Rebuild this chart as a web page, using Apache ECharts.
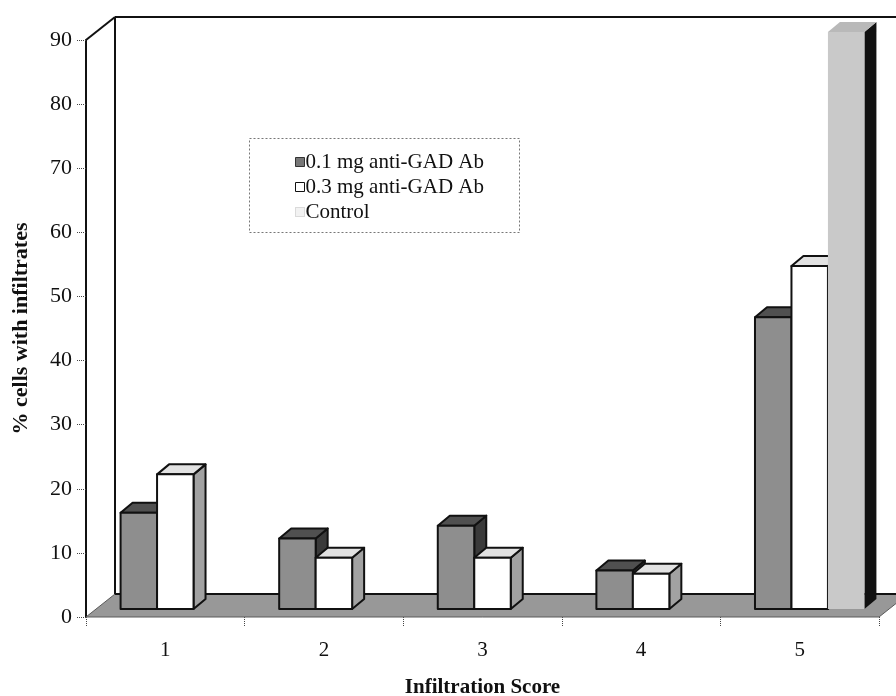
<!DOCTYPE html>
<html>
<head>
<meta charset="utf-8">
<script src="https://cdn.jsdelivr.net/npm/echarts@6/dist/echarts.min.js"></script>
<style>
  html, body { margin: 0; padding: 0; background: #fff; }
  #chart { width: 896px; height: 696px; }
</style>
</head>
<body>
<div id="chart"></div>
<script>
// Infiltration score categories and percentages per treatment group
const categories = ['1', '2', '3', '4', '5'];
const seriesNames = ['0.1 mg anti-GAD Ab', '0.3 mg anti-GAD Ab', 'Control'];
const dose01 = [15, 11, 13, 6, 45.5];
const dose03 = [21, 8, 8, 5.5, 53.5];
const control = [0, 0, 0, 0, 90];
const yMin = 0, yMax = 90, yStep = 10;

// 3D look: wall/floor depth, bar offset into the floor, bar depth
const WALL_DX = 29, WALL_DY = -23;
const FRONT_DX = 10, FRONT_DY = -8;
const BAR_DX = 12, BAR_DY = -10;
const BAR_FRAC = 0.23;
const SERIF = '"Liberation Serif", "DejaVu Serif", serif';

const faces = [
  { front: '#8e8e8e', top: '#505050', side: '#3a3a3a', stroke: '#111', icon: '#777', iconBorder: '#333' },
  { front: '#ffffff', top: '#e2e2e2', side: '#a2a2a2', stroke: '#111', icon: '#fff', iconBorder: '#111' },
  { front: '#c9c9c9', top: '#b9b9b9', side: '#111111', stroke: null, icon: '#f2f2f2', iconBorder: '#bbb' }
];

function toPairs(arr) { return arr.map((v, i) => [i, v]); }

function barRenderer(sIdx) {
  const f = faces[sIdx];
  return function (params, api) {
    const v = api.value(1);
    if (!(v > 0)) return null;
    const i = api.value(0);
    const top = api.coord([i, v]);
    const base = api.coord([i, 0]);
    const band = api.size([1, 0])[0];
    const w = band * BAR_FRAC;
    const x0 = top[0] - 1.5 * w + sIdx * w + FRONT_DX;
    const yt = top[1] + FRONT_DY;
    const yb = base[1] + FRONT_DY;
    const st = f.stroke ? { stroke: f.stroke, lineWidth: 2, lineJoin: 'round' } : { stroke: null };
    return {
      type: 'group',
      children: [
        { type: 'polygon', shape: { points: [[x0 + w, yt], [x0 + w + BAR_DX, yt + BAR_DY], [x0 + w + BAR_DX, yb + BAR_DY], [x0 + w, yb]] },
          style: Object.assign({ fill: f.side }, st) },
        { type: 'polygon', shape: { points: [[x0, yt], [x0 + w, yt], [x0 + w + BAR_DX, yt + BAR_DY], [x0 + BAR_DX, yt + BAR_DY]] },
          style: Object.assign({ fill: f.top }, st) },
        { type: 'rect', shape: { x: x0, y: yt, width: w, height: yb - yt },
          style: Object.assign({ fill: f.front }, st) }
      ]
    };
  };
}

// Back wall, side wall edge and floor of the plot box
function frameRenderer(params, api) {
  const cs = params.coordSys;
  const L = cs.x, R = cs.x + cs.width, T = cs.y, B = cs.y + cs.height;
  const ink = { stroke: '#111', lineWidth: 2 };
  return {
    type: 'group',
    children: [
      { type: 'polygon', shape: { points: [[L, B], [L + WALL_DX, B + WALL_DY], [R + WALL_DX, B + WALL_DY], [R, B]] },
        style: { fill: '#989898', stroke: '#5a5a5a', lineWidth: 1 } },
      { type: 'line', shape: { x1: L + WALL_DX, y1: B + WALL_DY, x2: R + WALL_DX, y2: B + WALL_DY }, style: ink },
      { type: 'line', shape: { x1: L, y1: T, x2: L + WALL_DX, y2: T + WALL_DY }, style: ink },
      { type: 'line', shape: { x1: L + WALL_DX, y1: T + WALL_DY, x2: R + WALL_DX + 40, y2: T + WALL_DY }, style: ink },
      { type: 'line', shape: { x1: L + WALL_DX, y1: T + WALL_DY, x2: L + WALL_DX, y2: B + WALL_DY }, style: ink }
    ]
  };
}

const chart = echarts.init(document.getElementById('chart'), null, { renderer: 'canvas' });

const valueSets = [dose01, dose03, control];

chart.setOption({
  animation: false,
  backgroundColor: '#ffffff',
  grid: { left: 86, right: 17, top: 40, bottom: 79, containLabel: false, outerBoundsMode: 'none' },
  xAxis: {
    type: 'category',
    data: categories,
    boundaryGap: true,
    axisLine: { show: false },
    axisTick: { show: true, length: 9, lineStyle: { color: '#444', type: 'dotted', width: 1 } },
    axisLabel: { margin: 23, fontFamily: SERIF, fontSize: 21, color: '#111' },
    name: 'Infiltration Score',
    nameLocation: 'middle',
    nameGap: 60,
    nameTextStyle: { fontFamily: SERIF, fontSize: 21, fontWeight: 'bold', color: '#111' }
  },
  yAxis: {
    type: 'value',
    min: yMin, max: yMax, interval: yStep,
    axisLine: { show: true, lineStyle: { color: '#111', width: 2 } },
    axisTick: { show: true, length: 10, lineStyle: { color: '#444', type: 'dotted', width: 1 } },
    splitLine: { show: false },
    axisLabel: { margin: 14, fontFamily: SERIF, fontSize: 22, color: '#111' },
    name: '% cells with infiltrates',
    nameLocation: 'middle',
    nameGap: 54,
    nameRotate: 90,
    nameTextStyle: { fontFamily: SERIF, fontSize: 22, fontWeight: 'bold', color: '#111' }
  },
  legend: {
    left: 290, top: 146,
    orient: 'vertical',
    itemWidth: 9, itemHeight: 9, itemGap: 3,
    selectedMode: false,
    textStyle: { fontFamily: SERIF, fontSize: 21, color: '#111', lineHeight: 22, padding: [0, 0, 0, -4] },
    data: seriesNames.map((n, k) => ({
      name: n, icon: 'rect',
      itemStyle: { color: faces[k].icon, borderColor: faces[k].iconBorder, borderWidth: 1, borderType: k === 2 ? 'dotted' : 'solid' }
    }))
  },
  graphic: [
    { type: 'rect', z: 3, left: 249, top: 138, shape: { width: 270, height: 94 },
      style: { fill: '#fff', stroke: '#777', lineWidth: 1, lineDash: [2, 2] } }
  ],
  series: [
    { type: 'custom', name: 'frame', z: 1, silent: true, renderItem: frameRenderer, data: [[0, 0]], encode: { x: 0, y: 1 } }
  ].concat(seriesNames.map((n, k) => ({
    type: 'custom',
    name: n,
    z: 2,
    itemStyle: { color: faces[k].icon },
    renderItem: barRenderer(k),
    encode: { x: 0, y: 1 },
    data: toPairs(valueSets[k])
  })))
});
</script>
</body>
</html>
